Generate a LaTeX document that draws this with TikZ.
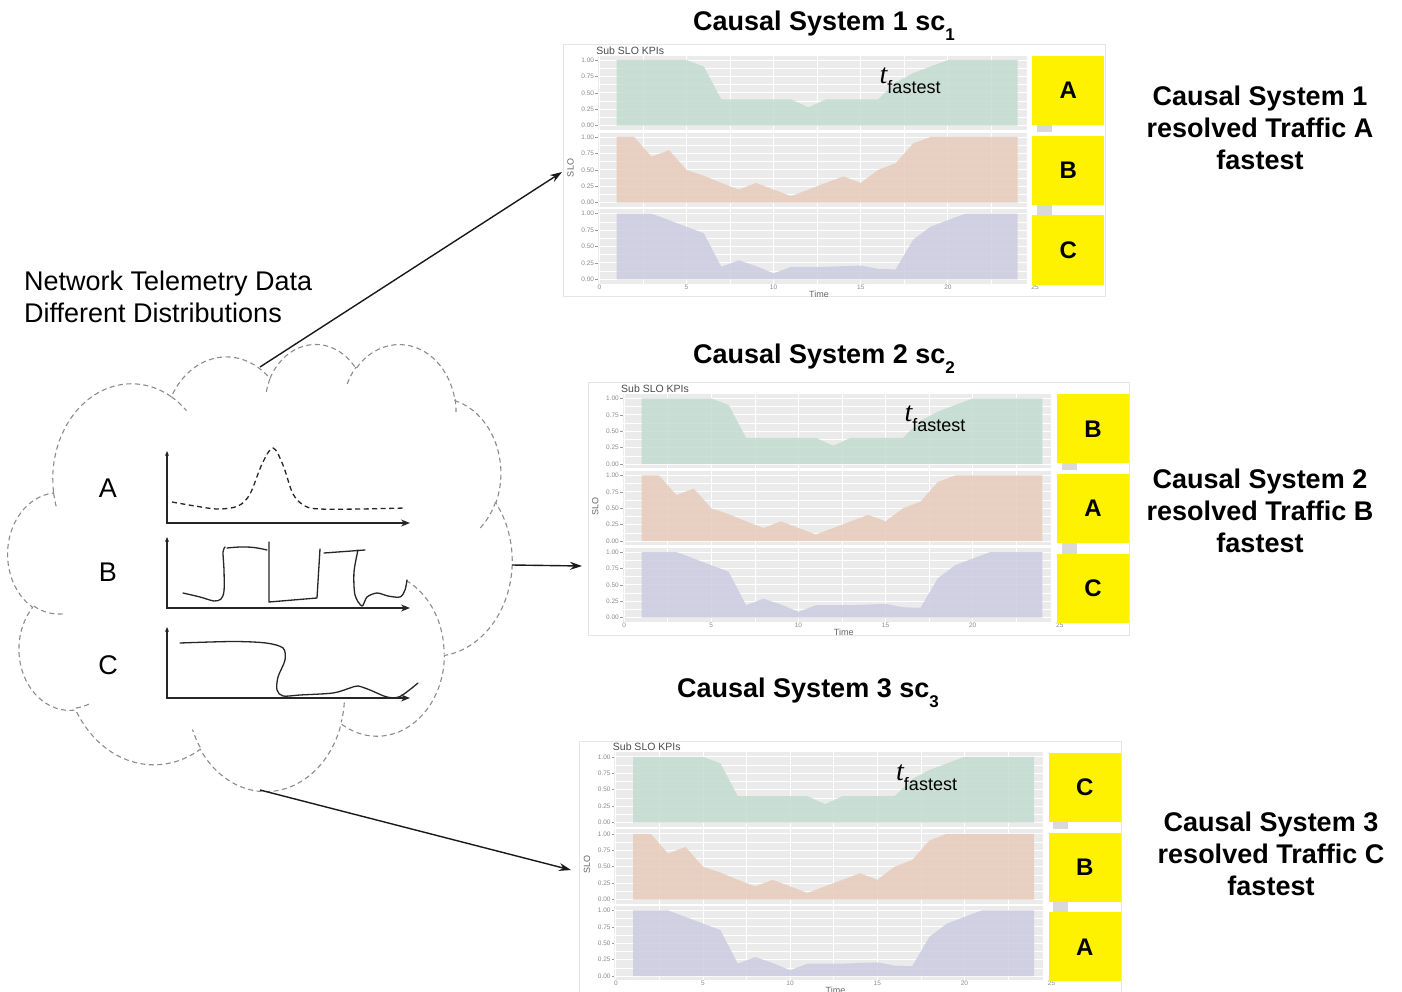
\documentclass[tikz,border=0pt]{standalone}
\usepackage{fontspec}
\setmainfont{Liberation Sans}
\newfontfamily\serifit{Liberation Serif}
\usetikzlibrary{arrows.meta}

\definecolor{plotgray}{RGB}{235,235,235}
\definecolor{kpigreen}{RGB}{195,219,207}
\definecolor{kpiorange}{RGB}{231,203,186}
\definecolor{kpipurple}{RGB}{205,204,225}
\definecolor{cloudgray}{RGB}{140,140,140}

% elliptical arc from a visual start angle and sweep (DrawingML arcTo convention)
\newcommand\ooxarc[5]{%
  \pgfmathsetmacro\ooxTa{atan2((#2)*sin(#4),(#3)*cos(#4))}%
  \pgfmathsetmacro\ooxTb{atan2((#2)*sin((#4)+(#5)),(#3)*cos((#4)+(#5)))}%
  \pgfmathsetmacro\ooxD{\ooxTb-\ooxTa}%
  \pgfmathsetmacro\ooxD{(\ooxD<0) ? (\ooxD+360) : (\ooxD)}%
  \tikzset{#1/.style/.expanded={start angle=\ooxTa, delta angle=\ooxD,
      x radius=#2, y radius=#3}}%
}
% cloud outline lobes
\ooxarc{cloA}{675.3}{919.0}{-190.4875}{123.7805}
\ooxarc{cloB}{533.3}{726.7}{-144.1024}{89.9452}
\ooxarc{cloC}{436.5}{594.5}{-145.8079}{99.7230}
\ooxarc{cloD}{485.7}{659.5}{-130.9861}{117.2417}
\ooxarc{cloE}{533.3}{727.3}{-78.7089}{109.0269}
\ooxarc{cloF}{677.5}{922.0}{-46.2673}{130.2690}
\ooxarc{cloG}{578.5}{786.7}{0.6250}{114.0333}
\ooxarc{cloH}{675.2}{921.5}{22.4516}{115.1726}
\ooxarc{cloI}{772.0}{1054.3}{66.2426}{75.7110}
\ooxarc{cloJ}{436.0}{591.8}{-274.9421}{146.7356}
\ooxarc{cloK}{434.5}{594.5}{-246.8285}{152.5189}
% short inner strokes where the lobes meet
\ooxarc{cltA}{434.5}{594.5}{86.7420}{26.4295}
\ooxarc{cltB}{436.0}{591.8}{73.6105}{11.4475}
\ooxarc{cltC}{675.2}{921.5}{137.6242}{14.0811}
\ooxarc{cltD}{675.2}{921.5}{6.4533}{15.9984}
\ooxarc{cltE}{578.5}{786.7}{-70.2924}{70.9174}
\ooxarc{cltF}{533.3}{727.3}{30.3180}{27.7515}
\ooxarc{cltG}{485.7}{659.5}{-13.7443}{14.8589}
\ooxarc{cltH}{485.7}{659.5}{-149.1815}{18.1954}
\ooxarc{cltI}{436.5}{594.5}{-163.4943}{17.6864}
\ooxarc{cltJ}{675.3}{919.0}{-66.7070}{12.3194}
\ooxarc{cltK}{675.3}{919.0}{157.6544}{11.8582}

% SLO series, time 1..24
\newcommand\kpidataA{(1,1) -- (5,1) -- (6,0.9) -- (7,0.4) -- (11,0.4) -- (12,0.28) -- (13,0.4) -- (16,0.4) -- (17,0.66) -- (18,0.8) -- (19,0.9) -- (20,1) -- (24,1)}
\newcommand\kpidataB{(1,1) -- (2,1) -- (3,0.7) -- (4,0.8) -- (5,0.5) -- (6,0.41) -- (7,0.3) -- (8,0.2) -- (9,0.3) -- (10,0.2) -- (11,0.1) -- (12,0.2) -- (13,0.3) -- (14,0.4) -- (15,0.3) -- (16,0.5) -- (17,0.6) -- (18,0.9) -- (19,1) -- (24,1)}
\newcommand\kpidataC{(1,1) -- (3,1) -- (4,0.9) -- (5,0.8) -- (6,0.7) -- (7,0.19) -- (8,0.29) -- (9,0.2) -- (10,0.09) -- (11,0.19) -- (13,0.19) -- (14,0.2) -- (15,0.21) -- (16,0.16) -- (17,0.15) -- (18,0.6) -- (19,0.8) -- (20,0.9) -- (21,1) -- (24,1)}

\tikzset{
  panelframe/.style={draw=black!10, fill=white, line width=0.8pt, inner sep=0pt,
    outer sep=0pt, minimum width=541.7pt, minimum height=252.4pt},
  plottitle/.style={inner sep=0pt, text=black!70, font=\fontsize{10.5}{12}\selectfont},
  ticktext/.style={inner sep=0pt, text=black!45, font=\fontsize{6.5}{7}\selectfont},
  axistitle/.style={inner sep=0pt, text=black!60, font=\fontsize{9}{10}\selectfont},
  plotbg/.style={fill=plotgray},
  gridmajor/.style={draw=white, line width=0.9pt},
  gridminor/.style={draw=white, line width=0.45pt},
  tickmark/.style={draw=black!40, line width=0.5pt},
  kpiA/.style={fill=kpigreen, fill opacity=0.85},
  kpiB/.style={fill=kpiorange, fill opacity=0.85},
  kpiC/.style={fill=kpipurple, fill opacity=0.85},
  stripgray/.style={fill=black!15},
  facetlab/.style={fill=yellow, inner sep=0pt, minimum width=72pt, minimum height=69pt,
    font=\fontsize{24}{24}\selectfont\bfseries},
  titletext/.style={inner sep=0pt, font=\fontsize{27}{32}\selectfont\bfseries},
  labeltext/.style={inner sep=0pt, align=center, font=\fontsize{27}{32}\selectfont\bfseries},
  bodytext/.style={inner sep=0pt, font=\fontsize{27}{32}\selectfont},
  cloudline/.style={draw=cloudgray, line width=1.1pt, dash pattern=on 5pt off 3.5pt},
  axisline/.style={draw=black!85, line width=1.4pt},
  sketch/.style={draw=black!85, line width=1.3pt, line cap=round, line join=round},
  link/.style={draw=black!90, line width=1.4pt, -{Stealth[length=12pt,width=8pt]}},
}

% one facet strip: prefix, index, pixel y of value 0, fill style, data path
\newcommand\slostrip[5]{%
  \begin{scope}[shift={(599.3,#3)}, x=17.43pt, y=65.7pt]
    \fill[plotbg] (-0.092,-0.066) rectangle (24.52,1.066);
    \foreach \t in {2.5,7.5,12.5,17.5,22.5}
      \draw[gridminor] (\t,-0.066) -- (\t,1.066);
    \foreach \v in {0.125,0.375,0.625,0.875}
      \draw[gridminor] (-0.092,\v) -- (24.52,\v);
    \foreach \t in {0,5,10,15,20}
      \draw[gridmajor] (\t,-0.066) -- (\t,1.066);
    \foreach \v in {0,0.25,0.5,0.75,1}
      \draw[gridmajor] (-0.092,\v) -- (24.52,\v);
    \fill[#4] (1,0) -- #5 -- (24,0) -- cycle;
    \foreach \v/\lab [count=\i] in {0/0.00,0.25/0.25,0.5/0.50,0.75/0.75,1/1.00}{
      \draw[tickmark] (-0.092,\v) -- (-0.235,\v);
      \node[ticktext, anchor=east] (#1-s#2-y\i) at (-0.29,\v) {\lab};
    }
  \end{scope}}

% whole chart panel: name, shift x, shift y, three strip labels
\newcommand\slopanel[6]{%
  \begin{scope}[shift={(#2,#3)}]
    \node[panelframe, anchor=north west] (#1) at (563.3,44.3) {};
    \node[plottitle, anchor=west] (#1-head) at (596.2,50.3) {Sub SLO KPIs};
    \slostrip{#1}{1}{125.7}{kpiA}{\kpidataA}
    \slostrip{#1}{2}{202.7}{kpiB}{\kpidataB}
    \slostrip{#1}{3}{279.3}{kpiC}{\kpidataC}
    \foreach \t [count=\i] in {0,5,10,15,20,25}
      \node[ticktext] (#1-x\i) at ({599.3+17.43*\t},286.9) {\t};
    \node[axistitle] (#1-time) at (819,293.8) {Time};
    \node[axistitle, rotate=90] (#1-slo) at (570.5,168) {SLO};
    \fill[stripgray] (1036.7,125) rectangle (1051.7,131.7);
    \fill[stripgray] (1036.7,204.5) rectangle (1051.7,215.2);
    \node[facetlab] (#1-a) at (1068.3,90.5) {#4};
    \node[facetlab] (#1-b) at (1068.3,170.2) {#5};
    \node[facetlab] (#1-c) at (1068.3,250) {#6};
    \node[anchor=base west, inner sep=0pt] (#1-tf) at (879.5,83.3)
      {{\fontsize{28}{28}\selectfont\serifit\itshape t}\raisebox{-10pt}{\fontsize{18}{18}\selectfont fastest}};
  \end{scope}}

\newcommand\subidx[1]{\raisebox{-10pt}{\fontsize{17}{17}\selectfont #1}}

\begin{document}
\begin{tikzpicture}[x=1pt, y=-1pt]
\useasboundingbox (0,0) rectangle (1402,992);
\fill[white] (0,0) rectangle (1402,992);

% cloud of telemetry sources
\begin{scope}[shift={(8,343)}, x=0.116667pt, y=-0.103472pt]
  \draw[cloudline] (390,1437) arc[cloA] arc[cloB] arc[cloC] arc[cloD] arc[cloE]
    arc[cloF] arc[cloG] arc[cloH] arc[cloI] arc[cloJ] arc[cloK] -- cycle;
  \draw[cloudline]
    (469.3,2617.7) arc[cltA] (692.8,3489.9) arc[cltB] (1647.8,3909.0) arc[cltC]
    (2882.7,3475.1) arc[cltD] (3412.9,2295.4) arc[cltE] (4179.8,1535.4) arc[cltF]
    (3832.4,542.6) arc[cltG] (2907.8,395.2) arc[cltH] (2214.1,472.0) arc[cltI]
    (1400.0,519.2) arc[cltJ] (412.7,1578.9) arc[cltK];
\end{scope}

% traffic A: single spike
\node[bodytext] (srcA) at (108,488) {A};
\draw[axisline, {Stealth[length=5pt,width=4pt]}-{Stealth[length=9pt,width=7pt]}]
  (167,451) -- (167,523) -- (410,523);
\draw[sketch, dash pattern=on 5pt off 3.5pt, line cap=butt] plot[smooth, tension=0.55] coordinates
  {(172,502) (195,506) (218,509) (238,506) (250,494) (262,464) (273,448) (283,465)
   (293,494) (305,506) (320,509) (360,509) (405,508)};

% traffic B: square wave
\node[bodytext] (srcB) at (108,572) {B};
\draw[axisline, {Stealth[length=5pt,width=4pt]}-{Stealth[length=9pt,width=7pt]}]
  (167,537) -- (167,608) -- (410,608);
\draw[sketch] plot[smooth, tension=0.5] coordinates
  {(183,593) (200,597) (214,601) (221,599) (224,591) (224,570) (223,552) (225,547)};
\draw[sketch] (227,548) .. controls (245,546) and (255,547) .. (267,550);
\draw[sketch] (269,542) -- (269,602) -- (317,598) -- (320,549);
\draw[sketch] (324,553) -- (365,550);
\draw[sketch] plot[smooth, tension=0.5] coordinates
  {(358,550) (354,572) (355,595) (362,606) (367,597) (377,593) (388,596) (400,597) (405,590) (407,580)};

% traffic C: step down
\node[bodytext] (srcC) at (108,665) {C};
\draw[axisline, {Stealth[length=5pt,width=4pt]}-{Stealth[length=9pt,width=7pt]}]
  (167,627) -- (167,698) -- (410,698);
\draw[sketch] plot[smooth, tension=0.5] coordinates
  {(180,643) (233,641.5) (266,643) (283,648) (285,660) (278,677) (277,690) (283,696)
   (300,695) (333,693) (350,688) (358,686) (370,690) (387,697) (400,696.5) (418,683)};

\node[bodytext, align=left, anchor=north west] (telemetry) at (24,271)
  {Network Telemetry Data\\Different Distributions};

% three causal systems
\slopanel{p1}{0}{0}{A}{B}{C}
\slopanel{p2}{24.8}{338.4}{B}{A}{C}
\slopanel{p3}{16.5}{696.8}{C}{B}{A}

\node[titletext, anchor=base] (title1) at (824,30.7) {Causal System 1 sc\subidx{1}};
\node[titletext, anchor=base] (title2) at (824,363) {Causal System 2 sc\subidx{2}};
\node[titletext, anchor=base] (title3) at (808,697) {Causal System 3 sc\subidx{3}};

\node[labeltext, anchor=north] (res1) at (1260,85.3) {Causal System 1\\resolved Traffic A\\fastest};
\node[labeltext, anchor=north] (res2) at (1260,468.3) {Causal System 2\\resolved Traffic B\\fastest};
\node[labeltext, anchor=north] (res3) at (1271,811.8) {Causal System 3\\resolved Traffic C\\fastest};

% connectors from the cloud to each system
\coordinate (cloudtop) at (260,367);
\coordinate (cloudright) at (512,565);
\coordinate (cloudbottom) at (260,790);
\coordinate (in1) at (562,172);
\coordinate (in2) at (582,566);
\coordinate (in3) at (571,870);
\draw[link] (cloudtop) -- (in1);
\draw[link] (cloudright) -- (in2);
\draw[link] (cloudbottom) -- (in3);
\end{tikzpicture}
\end{document}
